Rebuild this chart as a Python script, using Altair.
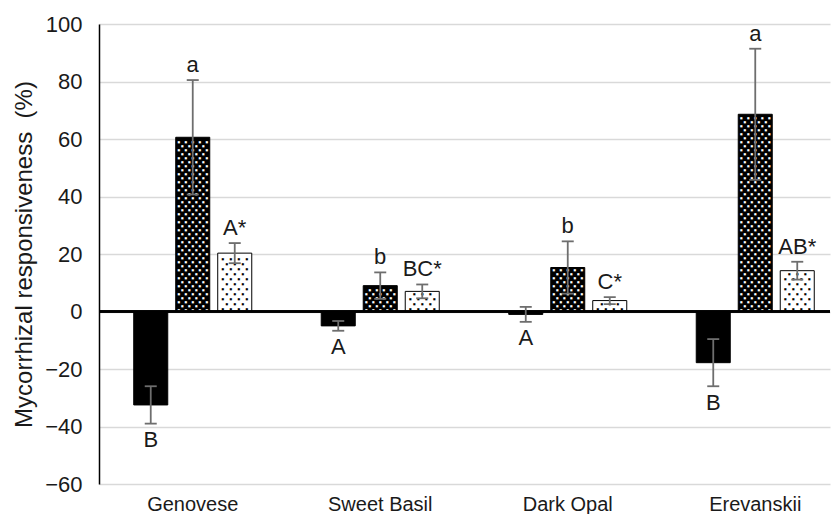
import altair as alt
import pandas as pd

# ---------------- data ----------------
groups = ["Genovese", "Sweet Basil", "Dark Opal", "Erevanskii"]
series = ["Solid", "Dense dots", "Sparse dots"]

solid = [-32.5, -5.0, -1.0, -17.8]
dense = [60.6, 9.0, 15.3, 68.6]
sparse = [20.3, 7.0, 3.8, 14.2]

err_solid = [6.5, 1.7, 2.6, 8.2]
err_dense = [19.9, 4.6, 9.1, 22.8]
err_sparse = [3.5, 2.4, 1.2, 3.1]

letters_solid = ["B", "A", "A", "B"]
letters_dense = ["a", "b", "b", "a"]
letters_sparse = ["A*", "BC*", "C*", "AB*"]

# ---------------- table building ----------------
recs = []
for s, vals, errs, labs in [
    (series[0], solid, err_solid, letters_solid),
    (series[1], dense, err_dense, letters_dense),
    (series[2], sparse, err_sparse, letters_sparse),
]:
    for g, v, e, l in zip(groups, vals, errs, labs):
        recs.append(dict(group=g, series=s, value=v, lo=v - e, hi=v + e, label=l,
                         above=v >= 0))
df = pd.DataFrame(recs)

# dot texture for the patterned bars (derived from the bar values)
Y_MIN, Y_MAX, H = -60, 100, 460
PXU = H / (Y_MAX - Y_MIN)
dots = []
for g, v in zip(groups, dense):
    h = v * PXU
    j = 0
    while 2 + 4 * j < h - 1:
        cols = [-14, -7, 0, 7, 14] if j % 2 == 0 else [-10.5, -3.5, 3.5, 10.5]
        for c in cols:
            dots.append(dict(group=g, series=series[1], y=(2 + 4 * j) / PXU, dx=c, kind="white"))
        j += 1
for g, v in zip(groups, sparse):
    h = v * PXU
    j = 0
    while 2.5 + 5 * j < h - 1.5:
        cols = [-12, -4, 4, 12] if j % 2 == 0 else [-8, 0, 8]
        for c in cols:
            dots.append(dict(group=g, series=series[2], y=(2.5 + 5 * j) / PXU, dx=c, kind="black"))
        j += 1
dots_df = pd.DataFrame(dots)

FONT = "Liberation Sans"
TXT = "#1a1a1a"

X = alt.X("group:N", sort=groups)
XO = alt.XOffset("series:N", sort=series)

x_enc = alt.X("group:N", sort=groups,
              scale=alt.Scale(domain=groups, paddingInner=0.328, paddingOuter=0.1133, align=0.7235),
              axis=alt.Axis(title=None, domain=False, ticks=False, grid=False, labelAngle=0,
                            labelPadding=10, labelFontSize=20, labelFont=FONT, labelColor=TXT))
xo_enc = alt.XOffset("series:N", sort=series,
                     scale=alt.Scale(domain=series, paddingInner=0.19, paddingOuter=0.095))
y_scale = alt.Scale(domain=[Y_MIN, Y_MAX], nice=False, zero=False)

base = alt.Chart(df)

bars = base.mark_bar(stroke="black", strokeWidth=1).encode(
    x=x_enc,
    xOffset=xo_enc,
    y=alt.Y("value:Q", scale=y_scale,
            axis=alt.Axis(title="Mycorrhizal responsiveness \u00a0(%)",
                          values=list(range(-60, 101, 20)),
                          grid=True, gridColor="#d9d9d9", gridWidth=1.5,
                          domainColor="black", domainWidth=1.5, ticks=False,
                          labelPadding=17, labelFontSize=22, labelFont=FONT, labelColor=TXT,
                          titleFontSize=24, titleFont=FONT, titleFontWeight="normal",
                          titleColor=TXT, titlePadding=8)),
    fill=alt.Fill("series:N", scale=alt.Scale(domain=series, range=["#000000", "#000000", "#ffffff"]),
                  legend=None),
)

# dot texture layers (tiny square glyphs), one per column offset
dot_layers = []
for kind, colour in [("white", "white"), ("black", "black")]:
    sub = dots_df[dots_df["kind"] == kind]
    for off in sorted(sub["dx"].unique()):
        dot_layers.append(
            alt.Chart(sub[sub["dx"] == off]).mark_text(
                text="\u25a0", font="DejaVu Sans", fontSize=2.8, color=colour,
                baseline="middle", align="center", dx=float(off)
            ).encode(x=X, xOffset=XO, y=alt.Y("y:Q", scale=y_scale))
        )

zero = alt.Chart(df).mark_rule(color="black", strokeWidth=1.5).encode(y=alt.datum(0))

ERR = "#6e6e6e"
err_rule = base.mark_rule(color=ERR, strokeWidth=1.8).encode(
    x=X, xOffset=XO, y=alt.Y("lo:Q", scale=y_scale), y2="hi:Q")
cap_lo = base.mark_tick(color=ERR, thickness=1.8, size=12, opacity=1).encode(
    x=X, xOffset=XO, y=alt.Y("lo:Q", scale=y_scale))
cap_hi = base.mark_tick(color=ERR, thickness=1.8, size=12, opacity=1).encode(
    x=X, xOffset=XO, y=alt.Y("hi:Q", scale=y_scale))

lab_up = base.transform_filter("datum.above").mark_text(
    baseline="alphabetic", dy=-8, fontSize=22, font=FONT, color=TXT
).encode(x=X, xOffset=XO, y=alt.Y("hi:Q", scale=y_scale), text="label:N")
lab_dn = base.transform_filter("!datum.above").mark_text(
    baseline="top", dy=6.5, fontSize=22, font=FONT, color=TXT
).encode(x=X, xOffset=XO, y=alt.Y("lo:Q", scale=y_scale), text="label:N")

chart = alt.layer(
    bars, *dot_layers, zero, err_rule, cap_lo, cap_hi, lab_up, lab_dn
).properties(
    width=731, height=H,
    padding={"left": 4, "top": 5, "right": 0, "bottom": 0},
).configure_view(stroke=None)

chart.save("out.html", embed_options={"renderer": "svg", "actions": False})
